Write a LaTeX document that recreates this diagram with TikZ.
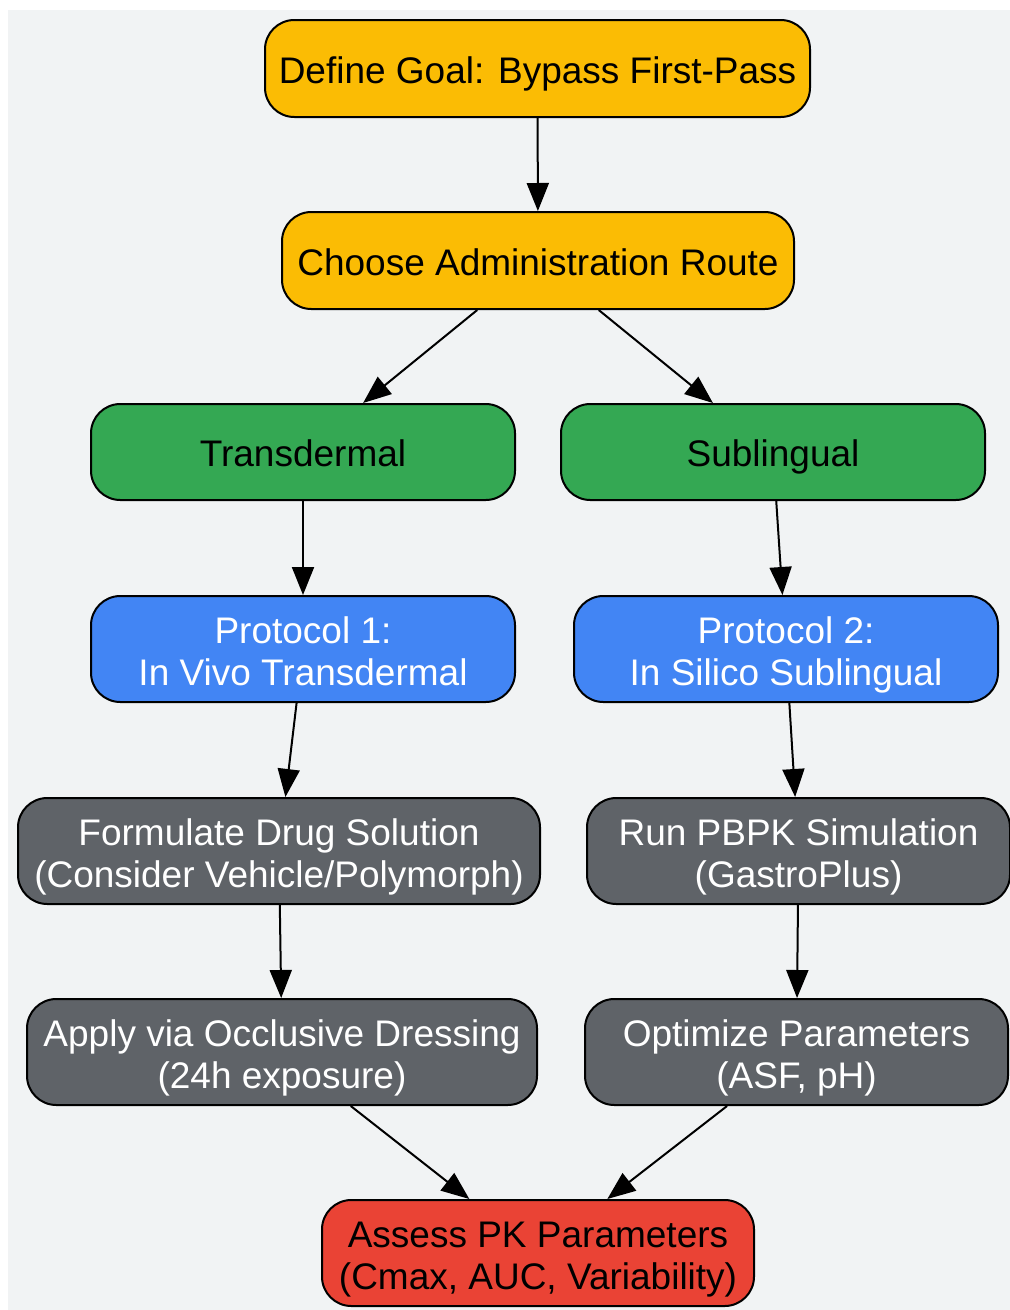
\documentclass[tikz,border=0pt]{standalone}
\usepackage{fontspec}
\setmainfont{Liberation Sans}
\usetikzlibrary{arrows.meta}
\definecolor{bgc}{HTML}{F1F3F4}
\definecolor{yel}{HTML}{FBBC04}
\definecolor{grn}{HTML}{34A853}
\definecolor{blu}{HTML}{4285F4}
\definecolor{gry}{HTML}{5F6368}
\definecolor{rd}{HTML}{EA4335}
\begin{document}
\begin{tikzpicture}[x=0.75pt,y=-0.75pt,
  box/.style={draw=black, line width=1.5pt, rounded corners=22pt, inner sep=0pt, align=center,
    font=\fontsize{27.75}{31}\selectfont, text depth=0pt},
  one/.style={text height=21.8pt},
  two/.style={text height=54.4pt},
  yelbox/.style={box, one, fill=yel, text=black, minimum height=72.75pt},
  grnbox/.style={box, one, fill=grn, text=black, minimum height=72pt, minimum width=318pt},
  blubox/.style={box, two, fill=blu, text=white, minimum height=79.5pt, minimum width=318pt},
  grybox/.style={box, two, fill=gry, text=white, minimum height=79.5pt},
  rdbox/.style={box, two, fill=rd, text=black, minimum height=79.5pt},
  arr/.style={line width=1.5pt, -{Triangle[length=21pt,width=16.5pt]}}]
\useasboundingbox (0,0) rectangle (1010,1310);
\fill[bgc] (8,10) rectangle (1010,1310);
\node[yelbox, minimum width=408.75pt] (goal) at (537.5,68.5) {Define Goal: Bypass First-Pass};
\node[yelbox, minimum width=384pt] (route) at (538,260.5) {Choose Administration Route};
\node[grnbox] (trans) at (303,452) {Transdermal};
\node[grnbox] (subl) at (773,452) {Sublingual};
\node[blubox] (p1) at (303,649) {Protocol 1:\\In Vivo Transdermal};
\node[blubox] (p2) at (786,649) {Protocol 2:\\In Silico Sublingual};
\node[grybox, minimum width=391.5pt] (form) at (279,851) {Formulate Drug Solution\\(Consider Vehicle/Polymorph)};
\node[grybox, minimum width=317.25pt] (pbpk) at (798.5,851) {Run PBPK Simulation\\(GastroPlus)};
\node[grybox, minimum width=382.5pt] (apply) at (282,1052) {Apply via Occlusive Dressing\\(24h exposure)};
\node[grybox, minimum width=317.25pt] (opt) at (796.5,1052) {Optimize Parameters\\(ASF, pH)};
\node[rdbox, minimum width=324pt] (assess) at (538,1253) {Assess PK Parameters\\(Cmax, AUC, Variability)};
\draw[arr] (goal) -- (route);
\draw[arr] (route) -- (trans);
\draw[arr] (route) -- (subl);
\draw[arr] (trans) -- (p1);
\draw[arr] (subl) -- (p2);
\draw[arr] (p1) -- (form);
\draw[arr] (p2) -- (pbpk);
\draw[arr] (form) -- (apply);
\draw[arr] (pbpk) -- (opt);
\draw[arr] (apply) -- (assess);
\draw[arr] (opt) -- (assess);
\end{tikzpicture}
\end{document}
